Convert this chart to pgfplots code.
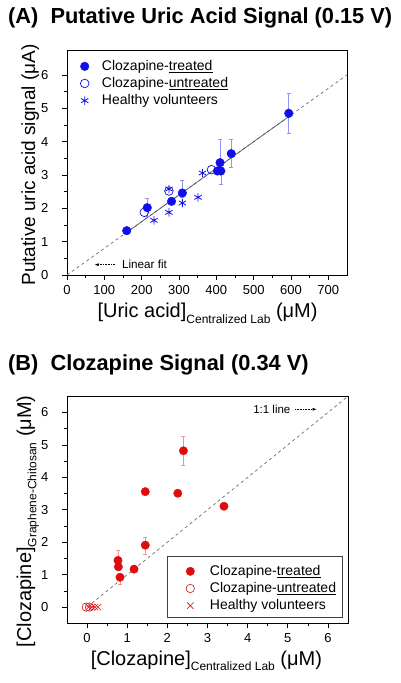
\documentclass[border=0pt]{standalone}
\usepackage{fontspec}
\setmainfont{Liberation Sans}
\usepackage{pgfplots}
\pgfplotsset{compat=1.18}
\usetikzlibrary{arrows.meta}
\definecolor{mblue}{RGB}{15,15,235}
\definecolor{mred}{RGB}{222,12,12}
\definecolor{fitgray}{RGB}{110,110,110}
\newcommand{\sub}[1]{\raisebox{-0.5ex}{\fontsize{12}{12}\selectfont #1}}
\begin{document}
\begin{tikzpicture}
\path[use as bounding box] (0pt,0pt) rectangle (401pt,683pt);
\pgfplotsset{
  myaxis/.style={
    scale only axis,
    axis line style={line width=0.8pt},
    tick align=outside,
    xtick pos=left, ytick pos=left,
    major tick length=5pt, minor tick length=3pt,
    tick style={line width=0.7pt,black},
    minor x tick num=1, minor y tick num=1,
    tick label style={font=\fontsize{13}{13}\selectfont},
    yticklabel style={xshift=-10pt},
    xticklabel style={yshift=-2pt},
    /pgf/number format/assume math mode=true,
    legend cell align=left,
    clip=false,
  }
}
% ---------- Panel A ----------
\node[anchor=base west,font=\fontsize{21.8}{23}\selectfont\bfseries,inner sep=0pt] at (8pt,659.7pt) {(A)\ \ Putative Uric Acid Signal (0.15 V)};
\begin{axis}[myaxis,
  at={(67pt,408pt)}, anchor=south west,
  width=280pt, height=225pt,
  xmin=0, xmax=750, ymin=0, ymax=6.75,
  xtick={0,100,...,700}, ytick={0,1,...,6},
  xlabel={[Uric acid]\sub{Centralized Lab} (μM)},
  ylabel={Putative uric acid signal (μA)},
  xlabel style={at={(axis description cs:0.502,-0.191)}, anchor=base, font=\fontsize{20}{20}\selectfont},
  ylabel style={at={(axis description cs:-0.114,0.489)}, anchor=base, font=\fontsize{19}{19}\selectfont},
  legend style={at={(0.04,0.972)}, anchor=north west, draw=none, fill=none,
    font=\fontsize{14}{14}\selectfont, row sep=1.5pt, inner sep=2pt,
    /tikz/every odd column/.append style={column sep=11pt}},
]
\addplot[dashed, fitgray, line width=0.7pt, forget plot] coordinates {(0,0) (750,6.0)};
\addplot[solid, fitgray!80!black, line width=0.7pt, forget plot] coordinates {(160,1.28) (594,4.75)};
\addplot[only marks, mark=*, mark size=4.3pt, mblue, mark options={fill=mblue, draw=mblue},
  error bars/.cd, y dir=both, y explicit,
  error bar style={color=mblue!45, line width=0.6pt},
  error mark options={rotate=90, mark size=2pt, color=mblue!45}]
  coordinates {
  (160,1.33) +- (0,0.08)
  (215,2.02) += (0,0.28) -= (0,0.25)
  (280,2.21) +- (0,0.1)
  (309,2.46) += (0,0.38) -= (0,0.12)
  (410,3.37) += (0,0.71) -= (0,0.30)
  (403,3.12) +- (0,0.1)
  (412,3.12) += (0,0.1) -= (0,0.40)
  (440,3.64) += (0,0.42) -= (0,0.40)
  (594,4.85) += (0,0.61) -= (0,0.61)
  };
\addlegendentry{Clozapine-\underline{treated}}
\addplot[only marks, mark=o, mark size=4.3pt, mblue, mark options={line width=0.7pt}]
  coordinates {(207,1.88) (387,3.16) (273,2.52)};
\addlegendentry{Clozapine-\underline{untreated}}
\addplot[only marks, mark=asterisk, mark size=4.2pt, mblue, mark options={line width=0.8pt}]
  coordinates {(233,1.64) (273,1.88) (273,2.58) (309,2.16) (351,2.33) (363,3.06)};
\addlegendentry{Healthy volunteers}
\draw[densely dotted, line width=0.6pt, -{Latex[length=4pt,width=3pt]}] (axis cs:128,0.31) -- (axis cs:74,0.31);
\node[anchor=west, font=\fontsize{11.7}{12}\selectfont, inner sep=0pt] at (axis cs:147,0.31) {Linear fit};
\end{axis}
% ---------- Panel B ----------
\node[anchor=base west,font=\fontsize{21.8}{23}\selectfont\bfseries,inner sep=0pt] at (8pt,312.3pt) {(B)\ \ Clozapine Signal (0.34 V)};
\begin{axis}[myaxis,
  at={(67pt,59.7pt)}, anchor=south west,
  width=281pt, height=227pt,
  xmin=-0.5, xmax=6.5, ymin=-0.5, ymax=6.5,
  xtick={0,1,...,6}, ytick={0,1,...,6},
  xlabel={[Clozapine]\sub{Centralized Lab} (μM)},
  ylabel={[Clozapine]\sub{Graphene-Chitosan} (μM)},
  xlabel style={at={(axis description cs:0.496,-0.184)}, anchor=base, font=\fontsize{20}{20}\selectfont},
  ylabel style={at={(axis description cs:-0.128,0.449)}, anchor=base, font=\fontsize{20}{20}\selectfont},
  legend style={at={(0.416,0.273)}, anchor=north west, draw=none, fill=none,
    font=\fontsize{14}{14}\selectfont, row sep=1.5pt, inner sep=2pt,
    /tikz/every odd column/.append style={column sep=13.5pt}},
]
\draw[black!75, line width=0.6pt, fill=white] (rel axis cs:0.357,0.025) rectangle (rel axis cs:0.981,0.293);
\addplot[dashed, fitgray, line width=0.7pt, forget plot] coordinates {(0,0) (6.5,6.5)};
\addplot[only marks, mark=*, mark size=4.2pt, mred, mark options={fill=mred, draw=mred},
  error bars/.cd, y dir=both, y explicit,
  error bar style={color=mred!45, line width=0.6pt},
  error mark options={rotate=90, mark size=2pt, color=mred!45}]
  coordinates {
  (2.40,4.82) += (0,0.46) -= (0,0.44)
  (1.45,3.56) +- (0,0.05)
  (2.26,3.51) +- (0,0.05)
  (3.41,3.11) +- (0,0.05)
  (1.45,1.91) += (0,0.26) -= (0,0.27)
  (0.77,1.44) += (0,0.30) -= (0,0.10)
  (0.78,1.24) +- (0,0.05)
  (0.82,0.92) += (0,0.10) -= (0,0.20)
  (1.17,1.17) +- (0,0.05)
  };
\addlegendentry{Clozapine-\underline{treated}}
\addplot[only marks, mark=o, mark size=4.2pt, mred, mark options={line width=0.6pt}]
  coordinates {(-0.02,0) (0.06,0)};
\addlegendentry{Clozapine-\underline{untreated}}
\addplot[only marks, mark=x, mark size=4.5pt, mred, mark options={line width=0.6pt}]
  coordinates {(0.04,0) (0.12,0) (0.20,0) (0.27,0)};
\addlegendentry{Healthy volunteers}
\node[anchor=east, font=\fontsize{11.5}{12}\selectfont, inner sep=0pt] at (axis cs:5.07,6.1) {1:1 line};
\draw[densely dotted, line width=0.6pt, -{Latex[length=4pt,width=3pt]}] (axis cs:5.18,6.1) -- (axis cs:5.72,6.1);
\end{axis}
\end{tikzpicture}
\end{document}
